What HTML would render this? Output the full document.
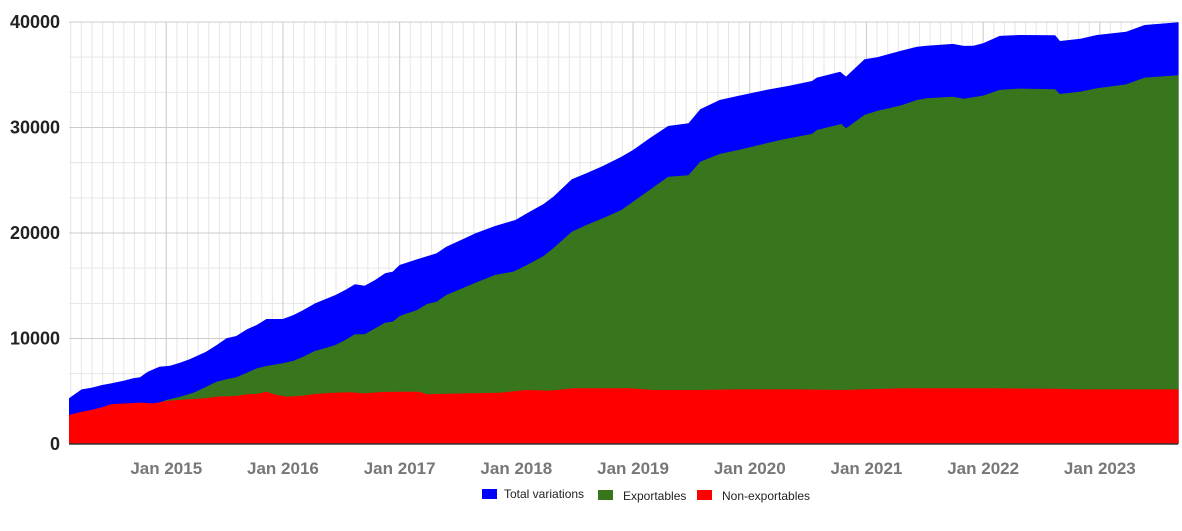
<!DOCTYPE html>
<html><head><meta charset="utf-8"><style>
body{margin:0;background:#fff;}
svg{display:block;font-family:"Liberation Sans",Arial,sans-serif;}
</style></head><body>
<svg id="chart" width="1182" height="531" viewBox="0 0 1182 531" xmlns="http://www.w3.org/2000/svg">
<g id="grid"></g>
<g id="areas"></g>
<g id="axes"></g>
<g>
 <g><rect x="482" y="489" width="15" height="10" fill="#0000ff"/><text x="504" y="498" font-size="12" fill="#222">Total variations</text></g>
 <g><rect x="598" y="490" width="15" height="10" fill="#38761d"/><text x="623" y="500" font-size="12" fill="#222">Exportables</text></g>
 <g><rect x="697" y="490" width="15" height="10" fill="#ff0000"/><text x="722" y="500" font-size="12" fill="#222">Non-exportables</text></g>
</g>
</svg>
<script>
// months since Mar 2014
const totalMonths=[0,1.3,2.3,3.4,4.4,5.6,6.6,7.3,8.1,9.3,10.4,11.4,12.4,14.1,15.2,16.2,17.2,18.3,19.3,20.3,22.0,23.1,24.1,25.3,26.3,27.4,28.4,29.4,30.4,31.5,32.5,33.3,34.0,35.8,37.8,38.8,40.7,41.8,43.8,45.9,47.1,48.8,49.8,51.7,53.2,54.9,56.8,58.0,59.7,61.6,63.7,64.9,66.9,68.8,71.7,74.0,76.4,76.9,79.3,79.9,81.8,83.1,85.6,87.2,88.2,90.9,92.0,93.0,94.0,95.7,97.8,101.4,101.9,104.0,105.7,108.7,110.6,114.1];
const totalValues=[4330,5180,5340,5590,5750,6000,6225,6320,6850,7330,7425,7710,8030,8750,9380,10020,10240,10870,11280,11850,11850,12230,12700,13330,13710,14120,14600,15140,15000,15550,16180,16340,16970,17510,18080,18700,19500,19970,20660,21230,21870,22750,23440,25090,25660,26350,27230,27870,28980,30140,30400,31730,32610,33000,33560,33940,34410,34730,35290,34820,36460,36650,37290,37660,37750,37920,37730,37750,37980,38680,38770,38740,38200,38420,38770,39080,39720,39970];
const exportMonths=[0,1.3,3.4,4.4,7.3,8.3,9.3,10.0,11.4,12.8,13.8,15.2,16.2,17.2,18.3,19.3,20.3,22.0,23.1,24.1,25.3,26.3,27.4,28.4,29.4,30.4,31.5,32.5,33.3,34.0,35.8,36.8,37.8,38.8,40.7,41.8,43.8,45.7,47.1,48.8,49.8,51.7,53.2,54.9,56.8,58.0,59.7,61.6,63.7,64.9,66.9,68.8,71.7,73.5,76.4,76.9,79.4,79.9,81.8,83.1,85.6,87.2,88.2,90.9,92.0,94.0,95.7,97.8,101.4,101.9,104.0,105.7,108.7,110.6,114.1];
const exportValues=[1900,2270,2400,2500,2900,3600,3920,4170,4480,4860,5280,5910,6130,6320,6760,7170,7390,7650,7900,8280,8820,9070,9380,9860,10400,10400,10970,11500,11600,12130,12700,13270,13490,14120,14850,15290,16020,16340,16970,17820,18550,20120,20760,21390,22180,22970,24080,25340,25480,26760,27490,27870,28500,28880,29390,29760,30330,29920,31190,31570,32100,32610,32770,32920,32730,33020,33560,33690,33620,33180,33400,33720,34090,34730,34950];
const nonExportMonths=[0,1.3,2.3,3.4,4.4,6.0,7.3,8.7,10.0,12.1,14.1,15.2,17.2,18.3,19.3,20.3,21.3,22.4,23.8,25.3,27.2,28.9,30.3,32.2,34.0,36.0,36.8,40.8,44.3,47.1,49.5,51.9,57.7,60.1,64.9,68.3,75.2,79.3,85.6,95.0,101.4,104.0,114.1];
const nonExportValues=[2750,3060,3220,3480,3790,3850,3920,3850,4080,4230,4330,4490,4550,4710,4740,4960,4650,4490,4550,4740,4860,4900,4800,4930,4960,4960,4710,4800,4860,5120,5060,5280,5280,5120,5120,5180,5180,5120,5280,5280,5230,5180,5180];
const yTicks=[0,10000,20000,30000,40000];
const xTickLabels=["Jan 2015","Jan 2016","Jan 2017","Jan 2018","Jan 2019","Jan 2020","Jan 2021","Jan 2022","Jan 2023"];

const NS="http://www.w3.org/2000/svg";
const X0=69,X1=1178,Y0=444,YT=22,MAXV=40000,MPX=9.725;
const xOf=m=>X0+m*MPX;
const yOf=v=>Y0-(v/MAXV)*(Y0-YT);
function mk(tag,attrs,parent){const e=document.createElementNS(NS,tag);for(const k in attrs)e.setAttribute(k,attrs[k]);parent.appendChild(e);return e;}
const grid=document.getElementById('grid'),areas=document.getElementById('areas'),axes=document.getElementById('axes');
// minor vertical grid
const yearPx=12*MPX;
for(let k=-9;k<=120;k++){const x=xOf(10)+k*yearPx/11;if(x<X0-0.5||x>X1)continue;
 const l=mk('line',{x1:x,x2:x,y1:YT,y2:Y0,stroke:'#e6e6e6','stroke-width':1},grid);
 
 }
// minor horizontal
for(let v=0;v<=MAXV;v+=10000/3){const y=yOf(v);
 const l=mk('line',{x1:X0,x2:X1,y1:y,y2:y,stroke:'#e6e6e6','stroke-width':1},grid);
 
 }
yTicks.forEach(v=>{const y=yOf(v);
 const l=mk('line',{x1:X0,x2:X1,y1:y,y2:y,stroke:'#cccccc','stroke-width':1},grid);
 
 });
xTickLabels.forEach((s,i)=>{const x=xOf(10+12*i);
 const l=mk('line',{x1:x,x2:x,y1:YT,y2:Y0,stroke:'#cccccc','stroke-width':1},grid);
 
 });
function area(ms,vs,color,name){let d='M'+xOf(ms[0])+','+Y0;
 ms.forEach((m,i)=>{d+=' L'+xOf(m).toFixed(1)+','+yOf(vs[i]).toFixed(1);});
 d+=' L'+xOf(ms[ms.length-1])+','+Y0+' Z';
 const p=mk('path',{d:d,fill:color},areas);
 
 }
area(totalMonths,totalValues,'#0000ff','total-variations-area');
area(exportMonths,exportValues,'#38761d','exportables-area');
area(nonExportMonths,nonExportValues,'#ff0000','non-exportables-area');
const ax=mk('line',{x1:X0,x2:X1,y1:Y0,y2:Y0,stroke:'#333','stroke-width':1.5},axes);


yTicks.forEach(v=>{const t=mk('text',{x:60,y:yOf(v)+6,'text-anchor':'end','font-size':18,'font-weight':'bold',fill:'#222'},axes);
 t.textContent=String(v);
 
 });
xTickLabels.forEach((s,i)=>{const t=mk('text',{x:xOf(10+12*i),y:474,'text-anchor':'middle','font-size':17,'font-weight':'bold',fill:'#777'},axes);
 t.textContent=s;
 
 });
</script>
</body></html>
